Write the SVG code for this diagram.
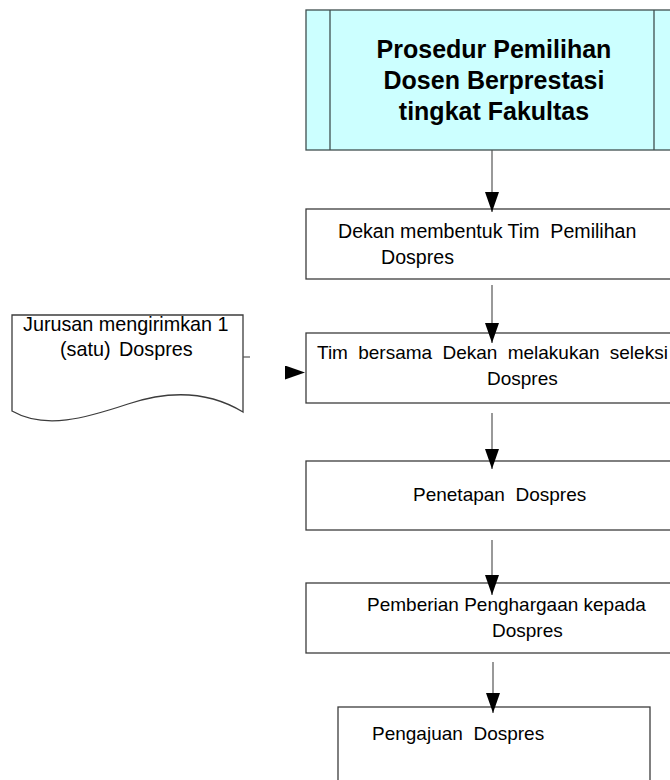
<svg xmlns="http://www.w3.org/2000/svg" width="670" height="780" viewBox="0 0 670 780">
<style>
  .box { fill: #ffffff; stroke: #3c3c3c; stroke-width: 1.3; }
  .title { fill: #ccffff; stroke: #3f4f4f; stroke-width: 1.3; }
  .t { font-family: "Liberation Sans", Arial, sans-serif; font-size: 19px; fill: #000; white-space: pre; }
  .tb { font-family: "Liberation Sans", Arial, sans-serif; font-size: 25px; font-weight: bold; fill: #000; text-anchor: middle; }
  .conn { stroke: #555555; stroke-width: 1.2; fill: none; }
</style>
<defs>
  <marker id="ah" viewBox="0 0 20 14" markerUnits="userSpaceOnUse" markerWidth="20" markerHeight="14" refX="20" refY="7" orient="auto">
    <path d="M0,0 L20,7 L0,14 Z" fill="#000"/>
  </marker>
</defs>
<rect width="670" height="780" fill="#ffffff"/>

<g id="title">
  <rect class="title" x="306" y="10" width="380" height="140"/>
  <line x1="330" y1="10" x2="330" y2="150" stroke="#3f4f4f" stroke-width="1.3"/>
  <line x1="654" y1="10" x2="654" y2="150" stroke="#3f4f4f" stroke-width="1.3"/>
  <text class="tb" x="494" y="58">Prosedur Pemilihan</text>
  <text class="tb" x="494" y="89">Dosen Berprestasi</text>
  <text class="tb" x="494" y="120">tingkat Fakultas</text>
</g>

<g id="step1">
  <rect class="box" x="306" y="209" width="380" height="70"/>
  <text class="t" x="338" y="238" style="font-size:19.6px">Dekan membentuk Tim  Pemilihan</text>
  <text class="t" x="381" y="264" style="font-size:19.6px">Dospres</text>
</g>

<g id="jurusan">
  <path class="box" d="M12,315 H243 V412 C210,392 170,390 128,404 C86,418 45,430 12,411 Z"/>
  <text class="t" x="23" y="331" style="font-size:19.8px">Jurusan mengirimkan 1</text>
  <text class="t" x="60" y="356" style="font-size:19.8px" word-spacing="3">(satu) Dospres</text>
</g>

<g id="step2">
  <rect class="box" x="306" y="333" width="380" height="70"/>
  <text class="t" x="317" y="359" word-spacing="5">Tim bersama Dekan melakukan seleksi</text>
  <text class="t" x="487" y="385">Dospres</text>
</g>

<g id="step3">
  <rect class="box" x="306" y="461" width="380" height="69"/>
  <text class="t" x="413" y="501">Penetapan  Dospres</text>
</g>

<g id="step4">
  <rect class="box" x="306" y="583" width="380" height="70"/>
  <text class="t" x="367" y="611">Pemberian Penghargaan kepada</text>
  <text class="t" x="492" y="637">Dospres</text>
</g>

<g id="step5">
  <rect class="box" x="338" y="707" width="312" height="90"/>
  <text class="t" x="372" y="740">Pengajuan  Dospres</text>
</g>

<g id="connectors">
  <line class="conn" x1="492" y1="150" x2="492" y2="212" marker-end="url(#ah)"/>
  <line class="conn" x1="492" y1="285" x2="492" y2="343" marker-end="url(#ah)"/>
  <line class="conn" x1="492" y1="413" x2="492" y2="469" marker-end="url(#ah)"/>
  <line class="conn" x1="492" y1="540" x2="492" y2="595" marker-end="url(#ah)"/>
  <line class="conn" x1="493" y1="662" x2="493" y2="713" marker-end="url(#ah)"/>
  <line class="conn" x1="243" y1="357" x2="250" y2="357" stroke="#000"/>
  <line x1="300" y1="372.5" x2="305" y2="372.5" stroke="none" marker-end="url(#ah)"/>
</g>
</svg>
